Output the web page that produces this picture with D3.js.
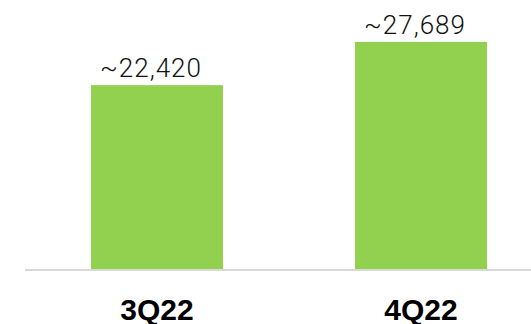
<!DOCTYPE html>
<html lang="en">
<head>
<meta charset="utf-8">
<title>Quarterly bars</title>
<script src="https://d3js.org/d3.v7.min.js"></script>
<style>
  body { margin: 0; background: white; }
  text { font-family: 'Roboto', sans-serif; }
  .bar { fill: #92D050; }
  .value { font-size: 26px; font-weight: 300; fill: #111; letter-spacing: 1px; }
  .cat { font-family: 'Liberation Sans', Arial, sans-serif; font-size: 30px; font-weight: bold; fill: #000; }
</style>
</head>
<body>
<div id="container"></div>
<script>
var quarters = ["3Q22", "4Q22"];
var users = [22420, 27689];
var valueLabels = ["~22,420", "~27,689"];

var w = 531, h = 324;

var svg = d3.select("#container")
  .append("svg")
  .attr("width", w)
  .attr("height", h);

var x = d3.scaleBand()
  .domain(quarters)
  .range([25, 553])
  .paddingInner(0.5)
  .paddingOuter(0.25);

var y = d3.scaleLinear()
  .domain([0, 32800])
  .range([269, 0]);

// baseline
svg.append("line")
  .attr("x1", 25).attr("x2", w)
  .attr("y1", 270).attr("y2", 270)
  .attr("stroke", "#d9d9d9")
  .attr("stroke-width", 2);

svg.selectAll(".bar")
  .data(quarters)
  .enter()
  .append("rect")
  .attr("class", "bar")
  .attr("x", function(d) { return x(d); })
  .attr("width", x.bandwidth())
  .attr("y", function(d, i) { return y(users[i]); })
  .attr("height", function(d, i) { return y(0) - y(users[i]); });

svg.selectAll(".value")
  .data(quarters)
  .enter()
  .append("text")
  .attr("class", "value")
  .attr("text-anchor", "middle")
  .attr("x", function(d) { return x(d) + x.bandwidth() / 2 - 6; })
  .attr("y", function(d, i) { return y(users[i]) - 8; })
  .text(function(d, i) { return valueLabels[i]; });

svg.selectAll(".cat")
  .data(quarters)
  .enter()
  .append("text")
  .attr("class", "cat")
  .attr("text-anchor", "middle")
  .attr("x", function(d) { return x(d) + x.bandwidth() / 2; })
  .attr("y", 320)
  .text(function(d) { return d; });
</script>
</body>
</html>
